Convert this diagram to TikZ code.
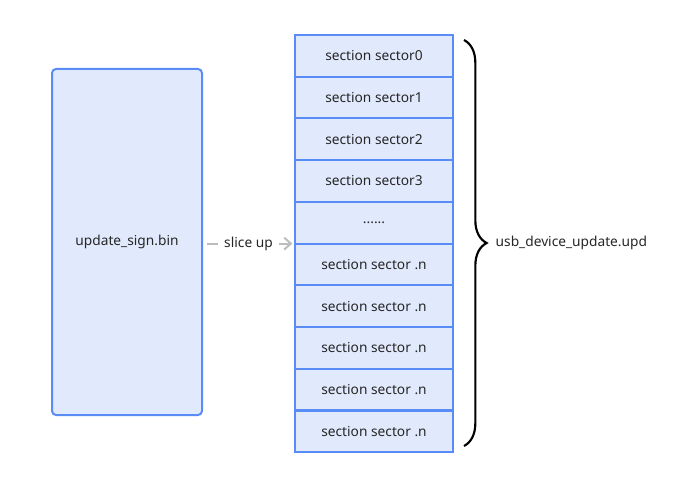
\documentclass[tikz,border=0pt]{standalone}
\usepackage{fontspec}
\setmainfont{Noto Sans}
\usepackage{xcolor}
\usetikzlibrary{arrows.meta, positioning, decorations.pathreplacing}

\definecolor{fondBleu}{HTML}{E1EAFD}
\definecolor{bordBleu}{HTML}{5A8CF8}
\definecolor{texteGris}{HTML}{262626}
\definecolor{flecheGris}{HTML}{BDBDBD}

\begin{document}
\begin{tikzpicture}[
		x=0.75pt, y=-0.75pt,
		node distance=0pt,
		% Styles des blocs
		fichier/.style={draw=bordBleu, fill=fondBleu, line width=1.5pt, rounded corners=3pt, minimum width=112.5pt, minimum height=259.5pt, outer sep=0pt, font=\fontsize{10.3}{12}\selectfont, text=texteGris},
		secteur/.style={draw=bordBleu, fill=fondBleu, line width=1.6pt, minimum width=118.5pt, minimum height=31.3pt, outer sep=0pt, font=\fontsize{10.3}{12}\selectfont, text=texteGris},
		fleche/.style={-{Straight Barb[length=5pt, width=9pt, line width=1.5pt]}, flecheGris, line width=1.5pt},
		accolade/.style={decorate, decoration={brace, amplitude=17pt}, line width=1.6pt, black},
		]
		
		\useasboundingbox (0,0) rectangle (694,478);
		
		% Fichier d'origine
		\node[fichier] (bin) at (127,242) {update\_sign.bin};
		
		% Secteurs
		\node[secteur] (S0) at (374,55.8) {section sector0};
		\node[secteur, below=of S0] (S1) {section sector1};
		\node[secteur, below=of S1] (S2) {section sector2};
		\node[secteur, below=of S2] (S3) {section sector3};
		\node[secteur, below=of S3] (S4) {......};
		\node[secteur, below=of S4] (S5) {section sector .n};
		\node[secteur, below=of S5] (S6) {section sector .n};
		\node[secteur, below=of S6] (S7) {section sector .n};
		\node[secteur, below=of S7] (S8) {section sector .n};
		\node[secteur, below=of S8] (S9) {section sector .n};
		
		% Decoupage
		\draw[fleche, shorten <=4pt, shorten >=2pt] (bin.east |- S4.south west) -- node[fill=white, inner sep=5pt, font=\fontsize{10.3}{12}\selectfont, text=texteGris] (decoupe) {slice up} (S4.south west);
		
		% Accolade
		\coordinate (hautAcc) at (464,40);
		\coordinate (basAcc) at (464,446);
		\draw[accolade] (hautAcc) -- (basAcc);
		\node[anchor=west, font=\fontsize{10.3}{12}\selectfont, text=texteGris] (upd) at (491,243) {usb\_device\_update.upd};
	\end{tikzpicture}
\end{document}
